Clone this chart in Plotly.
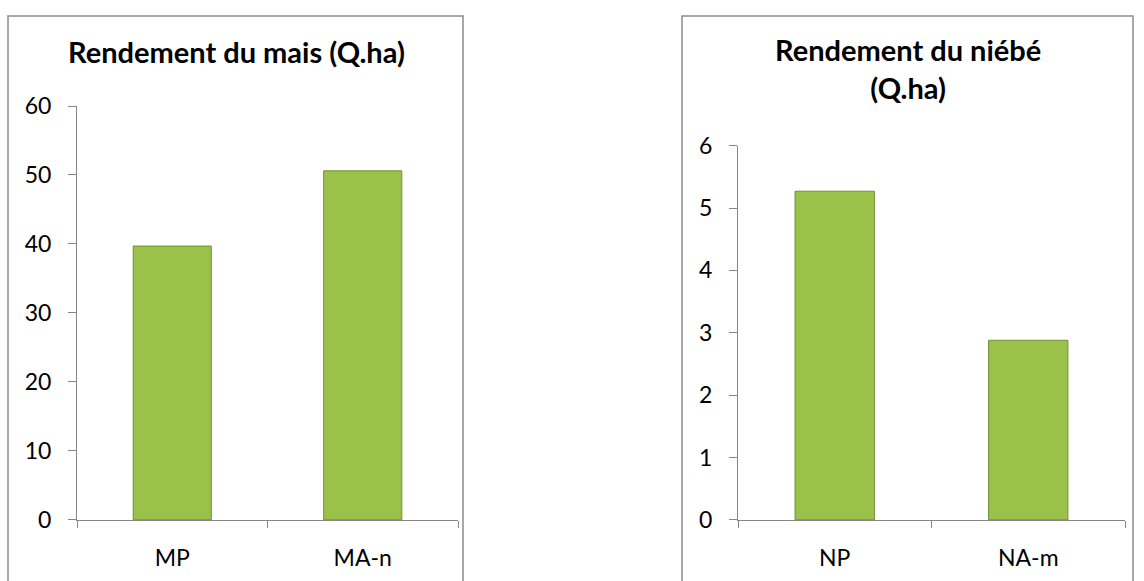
import plotly.graph_objects as go

# Données
mais_categories = ["MP", "MA-n"]
mais_values = [39.7, 50.6]
niebe_categories = ["NP", "NA-m"]
niebe_values = [5.27, 2.88]

mais_ticks = [0, 10, 20, 30, 40, 50, 60]
niebe_ticks = [0, 1, 2, 3, 4, 5, 6]

COLORS = {
    "bar": "#9AC24B",
    "bar_line": "#6F8F35",
    "axis": "#868686",
    "box": "#8C8C8C",
    "text": "#000000",
}
FONT = "Lato, Open Sans, sans-serif"

W, H = 1144, 581


def py(y_px):
    """Position verticale (px de la référence) -> coordonnée papier."""
    plan = (y_px - 12.3) / 0.959
    return 1 - plan / H


fig = go.Figure()
fig.add_trace(go.Bar(
    x=mais_categories, y=mais_values, xaxis="x", yaxis="y",
    width=0.41, marker=dict(color=COLORS["bar"], line=dict(color=COLORS["bar_line"], width=1)),
    showlegend=False,
))
fig.add_trace(go.Bar(
    x=niebe_categories, y=niebe_values, xaxis="x2", yaxis="y2",
    width=0.41, marker=dict(color=COLORS["bar"], line=dict(color=COLORS["bar_line"], width=1)),
    showlegend=False,
))

common_x = dict(showline=True, linecolor=COLORS["axis"], linewidth=1, ticks="outside",
                tickson="boundaries", ticklen=7, tickcolor=COLORS["axis"],
                showgrid=False, tickfont=dict(size=23, color=COLORS["text"]),
                ticklabelstandoff=18, fixedrange=True)
common_y = dict(showline=True, linecolor=COLORS["axis"], linewidth=1, ticks="outside",
                ticklen=8, tickcolor=COLORS["axis"], showgrid=False, zeroline=False,
                tickfont=dict(size=23, color=COLORS["text"]), ticklabelstandoff=12,
                fixedrange=True)

fig.update_layout(
    width=W, height=H,
    margin=dict(l=0, r=0, t=0, b=0),
    paper_bgcolor="white", plot_bgcolor="white",
    font=dict(family=FONT, color=COLORS["text"]),
    xaxis=dict(domain=[77 / W, 458 / W], anchor="y", **common_x),
    yaxis=dict(domain=[py(521), py(104)], anchor="x", range=[0, 60], tickvals=mais_ticks, **common_y),
    xaxis2=dict(domain=[738 / W, 1125 / W], anchor="y2", **common_x),
    yaxis2=dict(domain=[py(521), py(144)], anchor="x2", range=[0, 6], tickvals=niebe_ticks, **common_y),
    bargap=0.59,
)

# Cadres des graphiques
top = 1 - 1 / H
for x0, x1 in [(8, 463), (682, 1133)]:
    fig.add_shape(type="path", xref="paper", yref="paper",
                  path=f"M {x0 / W} -0.05 L {x0 / W} {top} L {x1 / W} {top} L {x1 / W} -0.05",
                  line=dict(color=COLORS["box"], width=1.5))

fig.add_annotation(text="<b>Rendement du mais (Q.ha)</b>", xref="paper", yref="paper",
                   x=236 / W, y=py(49), showarrow=False,
                   font=dict(size=29, family=FONT), xanchor="center", yanchor="middle")
fig.add_annotation(text="<b>Rendement du niébé<br>(Q.ha)</b>", xref="paper", yref="paper",
                   x=908 / W, y=py(66), showarrow=False,
                   font=dict(size=29, family=FONT), xanchor="center", yanchor="middle")

fig.write_html("out.html", config={"displayModeBar": False},
               post_script="document.body.style.margin='0';document.body.style.overflow='hidden';")
